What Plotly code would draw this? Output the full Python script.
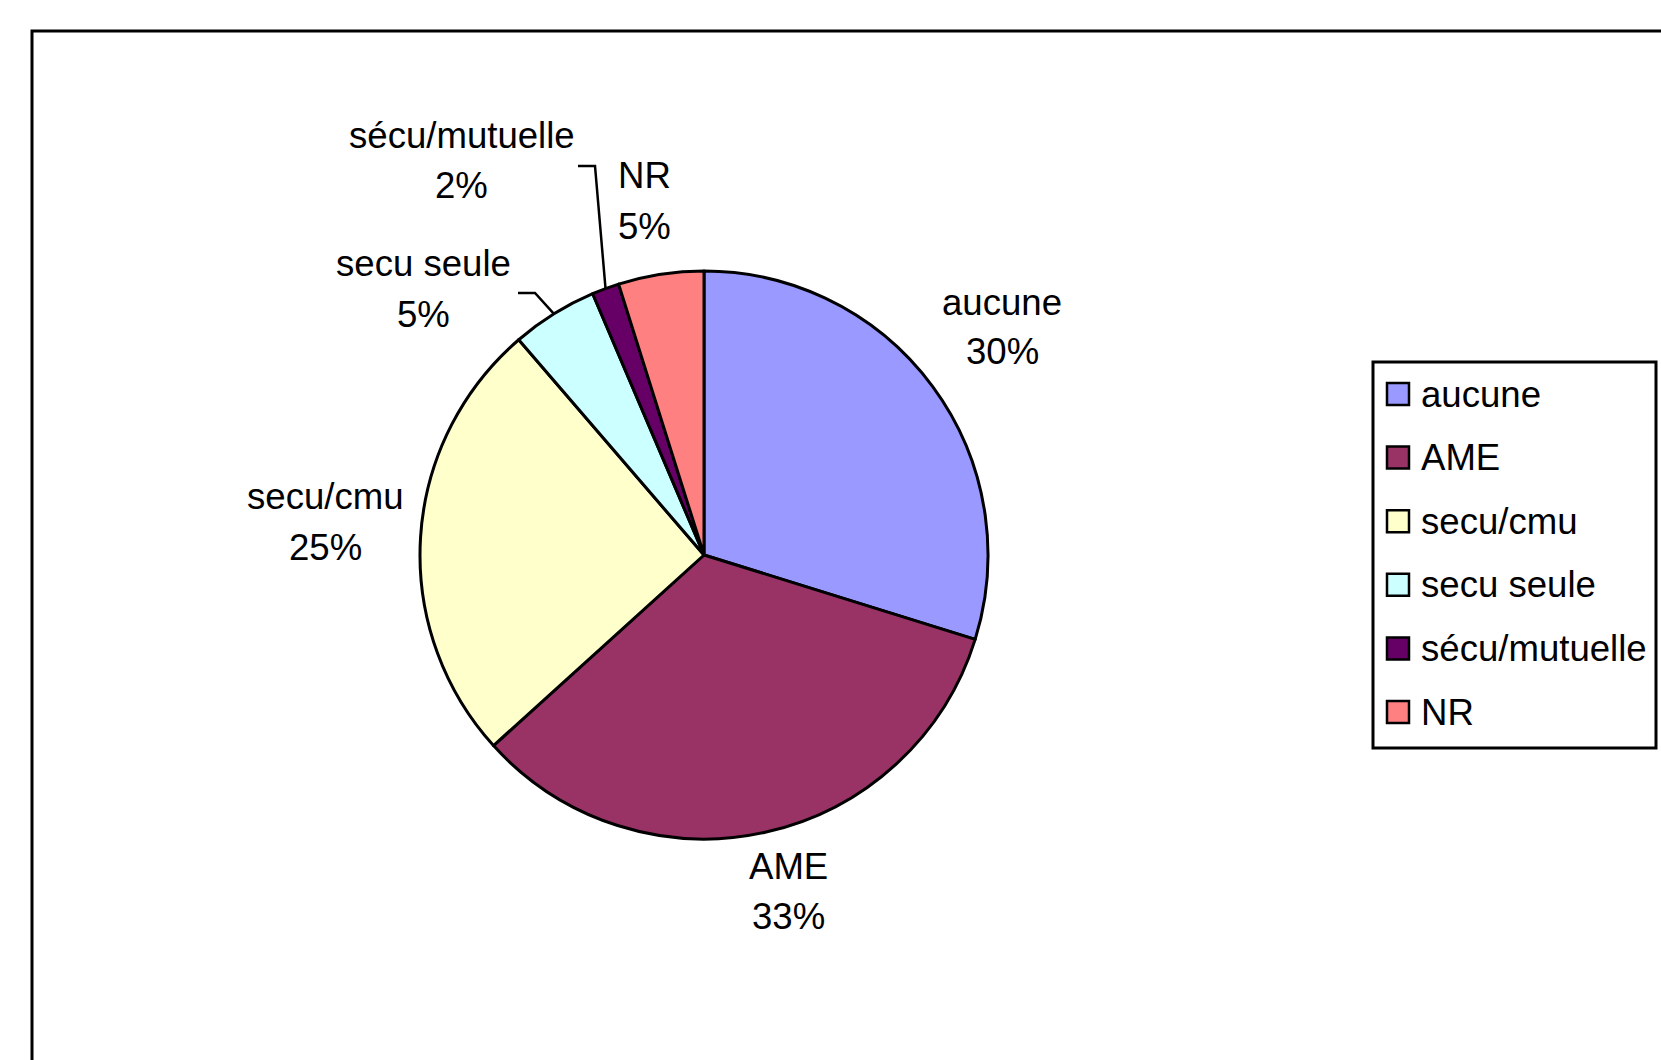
import math
import plotly.graph_objects as go

# ---- data ----
categories = ["aucune", "AME", "secu/cmu", "secu seule", "sécu/mutuelle", "NR"]
values = [29.8, 33.49, 25.4, 4.9, 1.55, 4.86]
colors = ["#9999FF", "#993366", "#FFFFCC", "#CCFFFF", "#660066", "#FF8080"]

# ---- layout constants (pixels) ----
W, H = 1661, 1060
CX, CY, R = 704, 555, 284
FONT = "Liberation Sans, Arial, sans-serif"
FS = 36.6
LINE_GAP = 25

label_pos = {
    "aucune": (1002, 327),
    "AME": (788, 891),
    "secu/cmu": (325, 522),
    "secu seule": (423, 289),
    "sécu/mutuelle": (462, 161),
    "NR": (644, 201),
}
leader_elbows = {
    "secu seule": [(518, 293), (535, 293)],
    "sécu/mutuelle": [(578, 166), (595, 166)],
}
LEG_BOX = (1373, 362, 1656, 748)
LEG_Y0, LEG_DY = 394, 63.6
SW_X0, SW_X1, SW_H = 1387, 1409, 22
LEG_TX = 1419


def X(px):
    return px / W


def Y(py):
    return 1 - py / H


total = sum(values)

fig = go.Figure()
fig.add_trace(go.Pie(
    labels=categories,
    values=values,
    sort=False,
    direction="clockwise",
    rotation=0,
    marker=dict(colors=colors, line=dict(color="black", width=3)),
    textinfo="none",
    hoverinfo="label+percent",
    showlegend=False,
    domain=dict(x=[X(CX - R), X(CX + R)], y=[Y(CY + R), Y(CY - R)]),
))

annotations = []
shapes = []

# outer frame
shapes.append(dict(type="rect", xref="paper", yref="paper",
                   x0=X(32), x1=X(W + 40), y0=Y(H + 40), y1=Y(31),
                   line=dict(color="black", width=3), fillcolor="rgba(0,0,0,0)"))

# slice labels
cum = 0.0
for cat, v in zip(categories, values):
    mid = (cum + v / 2) / total * 2 * math.pi
    cum += v
    lx, ly = label_pos[cat]
    annotations.append(dict(x=X(lx), y=Y(ly - LINE_GAP), xref="paper", yref="paper",
                            text=cat, showarrow=False, xanchor="center", yanchor="middle",
                            font=dict(family=FONT, size=FS, color="black")))
    annotations.append(dict(x=X(lx), y=Y(ly + LINE_GAP), xref="paper", yref="paper",
                            text=f"{v / total:.0%}", showarrow=False, xanchor="center",
                            yanchor="middle", font=dict(family=FONT, size=FS, color="black")))
    if cat in leader_elbows:
        ex = CX + R * math.sin(mid)
        ey = CY - R * math.cos(mid)
        pts = leader_elbows[cat] + [(ex, ey)]
        path = "M " + " L ".join(f"{X(px)},{Y(py)}" for px, py in pts)
        shapes.append(dict(type="path", xref="paper", yref="paper", path=path,
                           line=dict(color="black", width=2.5)))

# legend
lx0, ly0, lx1, ly1 = LEG_BOX
shapes.append(dict(type="rect", xref="paper", yref="paper",
                   x0=X(lx0), x1=X(lx1), y0=Y(ly1), y1=Y(ly0),
                   line=dict(color="black", width=3), fillcolor="white"))
for i, (cat, col) in enumerate(zip(categories, colors)):
    yc = LEG_Y0 + i * LEG_DY
    shapes.append(dict(type="rect", xref="paper", yref="paper",
                       x0=X(SW_X0), x1=X(SW_X1), y0=Y(yc + SW_H / 2), y1=Y(yc - SW_H / 2),
                       line=dict(color="black", width=2.5), fillcolor=col))
    annotations.append(dict(x=X(LEG_TX), y=Y(yc), xref="paper", yref="paper",
                            text=cat, showarrow=False, xanchor="left", yanchor="middle",
                            font=dict(family=FONT, size=FS, color="black")))

fig.update_layout(
    width=W, height=H,
    margin=dict(l=0, r=0, t=0, b=0),
    paper_bgcolor="white",
    plot_bgcolor="white",
    showlegend=False,
    shapes=shapes,
    annotations=annotations,
    font=dict(family=FONT, size=FS, color="black"),
)

fig.write_html("out.html", config={"displayModeBar": False},
               post_script="document.body.style.margin='0';")
